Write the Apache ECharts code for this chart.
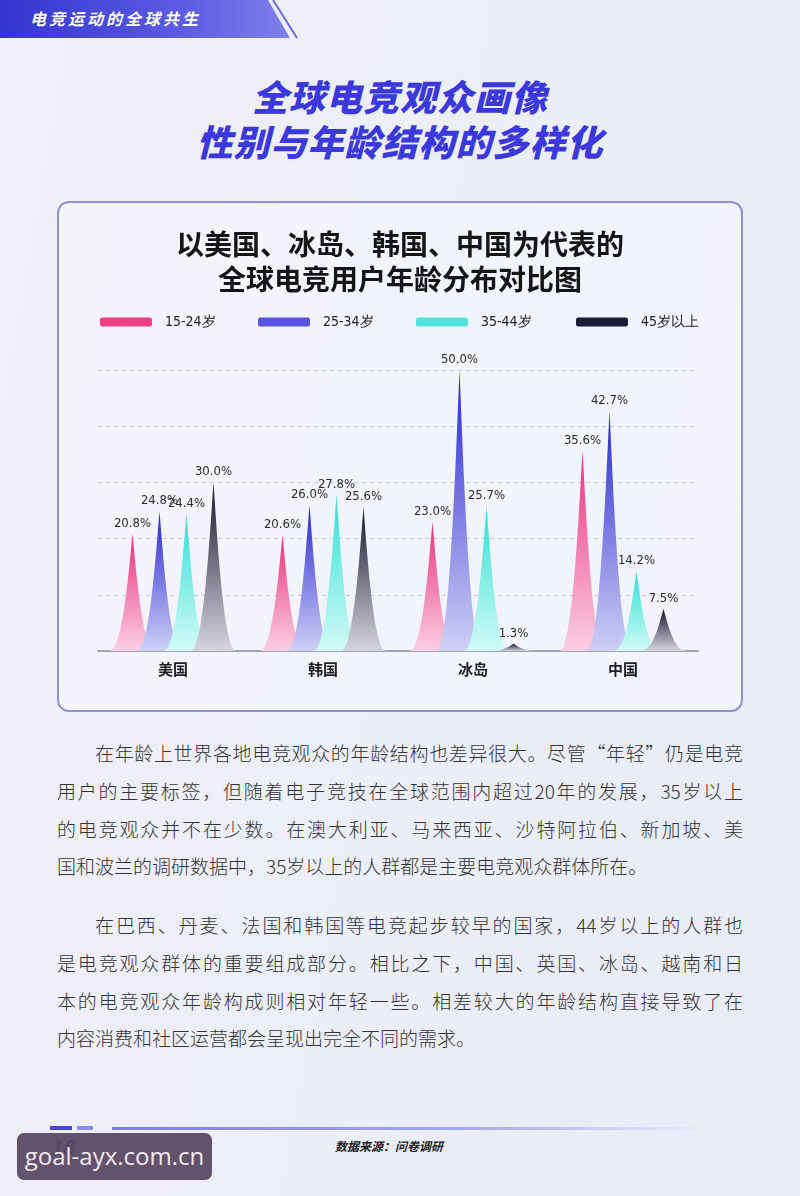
<!DOCTYPE html>
<html>
<head>
<meta charset="utf-8">
<script src="https://cdn.jsdelivr.net/npm/echarts@6/dist/echarts.min.js"></script>
<style>
  html,body{margin:0;padding:0;}
  body{width:800px;height:1196px;position:relative;overflow:hidden;
    background:linear-gradient(100deg,#f1eff7 0%,#eceef8 40%,#e9ecf7 100%);
    font-family:"Noto Sans CJK SC","Noto Sans",sans-serif;}
  .abs{position:absolute;}
  #banner{left:0;top:0;width:292px;height:38px;
    clip-path:polygon(0 0,268px 0,290px 38px,0 38px);
    background:linear-gradient(to right,#3434d2,#5a5ae2 60%,#8080ec);}
  #bannerText{left:30px;top:0;height:38px;line-height:37px;color:#fff;font-size:16px;font-weight:700;
    font-style:italic;letter-spacing:3px;}
  .title{left:0;width:800px;text-align:center;color:#3b39dc;font-size:36px;font-weight:900;
    font-style:italic;letter-spacing:1px;line-height:44px;}
  #box{left:57px;top:201px;width:682px;height:507px;border:2px solid #9190d4;border-radius:12px;
    background:rgba(246,247,253,0.65);}
  .para{left:57px;width:686px;color:#333;font-size:19px;font-weight:300;}
  .ln{height:37.8px;line-height:37.8px;text-align:justify;text-align-last:justify;white-space:nowrap;}
  .ln.last{text-align-last:left;}
  #chart{left:0;top:0;width:800px;height:1196px;}
</style>
</head>
<body>
<div id="banner" class="abs"></div>
<svg class="abs" style="left:0;top:0" width="320" height="40"><line x1="273" y1="0" x2="297" y2="38" stroke="#6d6cdc" stroke-width="2"/></svg>
<div id="bannerText" class="abs">电竞运动的全球共生</div>

<div class="abs title" style="top:73px">全球电竞观众画像</div>
<div class="abs title" style="top:118px">性别与年龄结构的多样化</div>

<div id="box" class="abs"></div>

<div class="abs para" style="top:734px">
  <div class="ln" style="padding-left:38px">在年龄上世界各地电竞观众的年龄结构也差异很大。尽管“年轻”仍是电竞</div>
  <div class="ln">用户的主要标签，但随着电子竞技在全球范围内超过20年的发展，35岁以上</div>
  <div class="ln">的电竞观众并不在少数。在澳大利亚、马来西亚、沙特阿拉伯、新加坡、美</div>
  <div class="ln last">国和波兰的调研数据中，35岁以上的人群都是主要电竞观众群体所在。</div>
</div>
<div class="abs para" style="top:906px">
  <div class="ln" style="padding-left:38px">在巴西、丹麦、法国和韩国等电竞起步较早的国家，44岁以上的人群也</div>
  <div class="ln">是电竞观众群体的重要组成部分。相比之下，中国、英国、冰岛、越南和日</div>
  <div class="ln">本的电竞观众年龄构成则相对年轻一些。相差较大的年龄结构直接导致了在</div>
  <div class="ln last">内容消费和社区运营都会呈现出完全不同的需求。</div>
</div>

<div class="abs" style="left:50px;top:1126px;width:22px;height:4px;background:#4646d6;"></div>
<div class="abs" style="left:77px;top:1126px;width:16px;height:4px;background:#8c8ce6;"></div>
<div class="abs" style="left:112px;top:1127px;width:600px;height:3px;background:linear-gradient(to right,#7c7ce2,#a9a9ee 60%,rgba(200,200,245,0));"></div>
<div class="abs" style="left:50px;top:1132px;font-size:20px;font-style:italic;font-weight:700;color:#3a3a9a;">18</div>
<div class="abs" style="left:335px;top:1137px;font-size:12px;font-style:italic;font-weight:700;color:#222;">数据来源：问卷调研</div>
<div class="abs" style="left:17px;top:1133px;width:195px;height:47px;border-radius:7px;background:rgba(88,70,96,0.93);color:#f3e9f1;font-family:'Open Sans','DejaVu Sans',sans-serif;font-size:24px;line-height:46px;text-align:center;">goal-ayx.com.cn</div>

<div id="chart" class="abs"></div>

<script>
// ---- data ----
const categories = ['美国', '韩国', '冰岛', '中国'];
const seriesNames = ['15-24岁', '25-34岁', '35-44岁', '45岁以上'];
const age15_24 = [20.8, 20.6, 23.0, 35.6];
const age25_34 = [24.8, 26.0, 50.0, 42.7];
const age35_44 = [24.4, 27.8, 25.7, 14.2];
const age45up  = [30.0, 25.6, 1.3, 7.5];
const yTicks = [0, 10, 20, 30, 40, 50];

const seriesData = [age15_24, age25_34, age35_44, age45up];
const topColors = ['#e8307a', '#2727cf', '#2fe0d6', '#15152e'];
const bottomColors = ['#fbd0e2', '#cfcff6', '#d2faf6', '#d6d6e0'];
const legendColors = ['#ec4083', '#5555e0', '#52e4dc', '#1b1b38'];
const legendLeft = [100, 258, 416, 576];

const spike = 'path://M0,10 L10,10 C7.2,10 5.9,3.5 5,0 C4.1,3.5 2.8,10 0,10 z';

const chart = echarts.init(document.getElementById('chart'), null, {renderer: 'canvas'});

const series = seriesNames.map((name, i) => ({
  name: name,
  type: 'pictorialBar',
  barWidth: 27,
  barGap: '0%',
  symbol: spike,
  symbolSize: [46, '100%'],
  itemStyle: {
    color: new echarts.graphic.LinearGradient(0, 0, 0, 1, [
      {offset: 0, color: topColors[i]},
      {offset: 1, color: bottomColors[i]}
    ])
  },
  label: {
    show: true,
    position: 'top',
    distance: 4,
    formatter: p => p.value.toFixed(1) + '%',
    fontFamily: 'DejaVu Sans Condensed, DejaVu Sans',
    fontSize: 13,
    color: '#2a2a2a'
  },
  data: seriesData[i]
}));

chart.setOption({
  backgroundColor: 'transparent',
  animation: false,
  title: {
    text: '以美国、冰岛、韩国、中国为代表的\n全球电竞用户年龄分布对比图',
    left: 'center',
    top: 222,
    textStyle: {
      fontFamily: 'Noto Sans CJK SC',
      fontSize: 28,
      fontWeight: 'bold',
      lineHeight: 35,
      color: '#151515'
    }
  },
  legend: seriesNames.map((name, i) => ({
    data: [{name: name, itemStyle: {color: legendColors[i]}}],
    left: legendLeft[i],
    top: 315,
    padding: 0,
    icon: 'roundRect',
    itemWidth: 52,
    itemHeight: 9,
    selectedMode: false,
    textStyle: {
      fontFamily: 'DejaVu Sans Condensed, DejaVu Sans',
      fontSize: 14,
      color: '#222',
      padding: [0, 0, 0, 8]
    }
  })),
  grid: {left: 98, right: 102, top: 370, bottom: 545, containLabel: false},
  xAxis: {
    type: 'category',
    data: categories,
    axisLine: {lineStyle: {color: '#9ea3bb', width: 2}},
    axisTick: {show: false},
    axisLabel: {
      margin: 11,
      fontFamily: 'Noto Sans CJK SC',
      fontWeight: 'bold',
      fontSize: 15,
      color: '#1e1e1e'
    }
  },
  yAxis: {
    type: 'value',
    min: yTicks[0],
    max: yTicks[yTicks.length - 1],
    interval: 10,
    axisLabel: {show: false},
    axisLine: {show: false},
    axisTick: {show: false},
    splitLine: {lineStyle: {type: [4, 4], color: '#c7c9da', width: 1}}
  },
  series: series
});
</script>
</body>
</html>
